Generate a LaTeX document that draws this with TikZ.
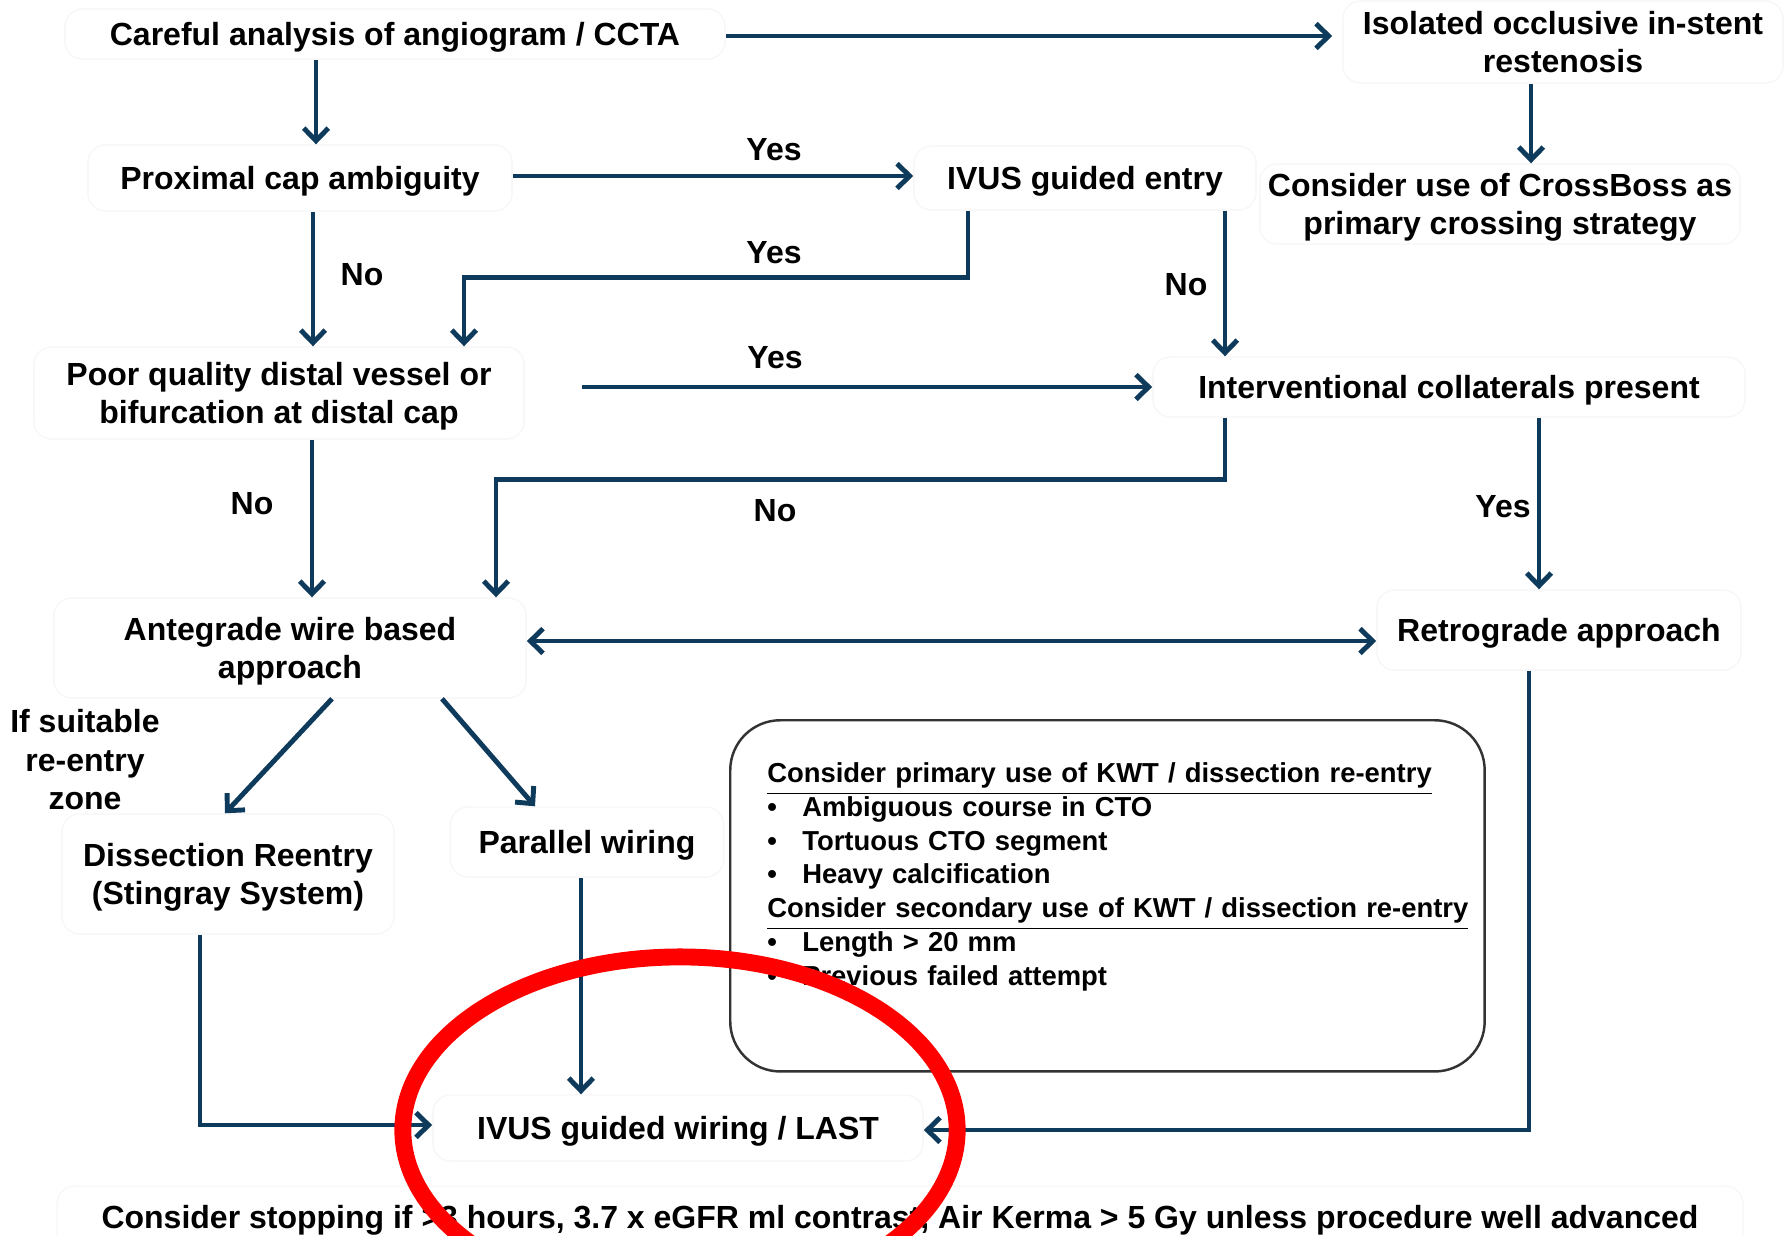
\documentclass[tikz,border=0pt]{standalone}
\usepackage{fontspec}
\setmainfont{Liberation Sans}
\usetikzlibrary{positioning,calc,arrows.meta}
\definecolor{navy}{HTML}{0E3A5C}
\newcommand{\kwtitem}{\makebox[0.35cm][l]{\textbullet}}

\begin{document}
\begin{tikzpicture}[x=0.01cm, y=-0.01cm, font=\fontsize{9.1}{10.95}\selectfont\bfseries]
\tikzset{
  card/.style={draw=black!3, rounded corners=5pt, fill=white, align=center, inner sep=0pt, text depth=0pt},
  lbl/.style={inner sep=0pt, align=center},
  arr/.style={draw=navy, line width=1.4pt, -{Straight Barb[length=3.6pt,width=7pt]}},
  both/.style={arr, {Straight Barb[length=3.6pt,width=7pt]}-{Straight Barb[length=3.6pt,width=7pt]}},
  kwtbox/.style={draw=black!80, rounded corners=0.5cm, line width=0.7pt, fill=white, align=left, anchor=north west,
    text width=6.8cm, inner xsep=0.37cm, minimum width=7.54cm, minimum height=3.51cm,
    font=\fontsize{7.8}{9.6}\selectfont\bfseries},
  ring/.style={draw=red, line width=4.8pt}
}
\useasboundingbox (0,0) rectangle (1785,1235);

\node[card, minimum width=6.6cm, minimum height=0.5cm] (careful) at (395,34) {Careful analysis of angiogram / CCTA};
\node[card, minimum width=4.4cm, minimum height=0.82cm] (isolated) at (1563,42) {Isolated occlusive in-stent\\restenosis};
\node[card, minimum width=4.24cm, minimum height=0.66cm] (proximal) at (300,178) {Proximal cap ambiguity};
\node[card, minimum width=3.42cm, minimum height=0.64cm] (ivusentry) at (1085,178) {IVUS guided entry};
\node[card, minimum width=4.8cm, minimum height=0.8cm] (crossboss) at (1500,204) {Consider use of CrossBoss as\\primary crossing strategy};
\node[card, minimum width=4.9cm, minimum height=0.92cm] (poor) at (279,393) {Poor quality distal vessel or\\bifurcation at distal cap};
\node[card, minimum width=5.92cm, minimum height=0.6cm] (collat) at (1449,387) {Interventional collaterals present};
\node[card, minimum width=4.72cm, minimum height=1.0cm] (antegrade) at (290,648) {Antegrade wire based\\approach};
\node[card, minimum width=3.64cm, minimum height=0.8cm] (retro) at (1559,630) {Retrograde approach};
\node[card, minimum width=3.32cm, minimum height=1.2cm] (dissection) at (228,874) {Dissection Reentry\\(Stingray System)};
\node[lbl] (suitable) at (85,760) {If suitable\\re-entry\\zone};
\node[card, minimum width=2.73cm, minimum height=0.7cm] (parallel) at (587,842) {Parallel wiring};
\node[card, minimum width=4.9cm, minimum height=0.66cm] (ivuswire) at (678,1128) {IVUS guided wiring / LAST};
\node[card, minimum width=16.85cm, minimum height=0.62cm] (stop) at (900,1217) {Consider stopping if >3 hours, 3.7 x eGFR ml contrast, Air Kerma > 5 Gy unless procedure well advanced};

\node[kwtbox] (kwt) at (729,719) {\underline{Consider primary use of KWT / dissection re-entry}\\
\kwtitem Ambiguous course in CTO\\
\kwtitem Tortuous CTO segment\\
\kwtitem Heavy calcification\\
\underline{Consider secondary use of KWT / dissection re-entry}\\
\kwtitem Length > 20 mm\\
\kwtitem Previous failed attempt\\[0.1cm]\mbox{}};

\foreach \n/\x/\y/\t in {yesA/774/150/Yes, yesB/774/253/Yes, noA/362/275/No, noB/1186/285/No,
  yesC/775/358/Yes, noC/252/504/No, noD/775/511/No, yesD/1503/507/Yes}
  \node[lbl] (\n) at (\x,\y) {\t};

\draw[arr] (careful.east |- 0,36) -- ([xshift=-0.1cm]isolated.west |- 0,36);
\draw[arr] (careful.south -| 316,0) -- (proximal.north -| 316,0);
\draw[arr] (proximal.east |- 0,176) -- (ivusentry.west |- 0,176);
\draw[arr] (isolated.south -| 1531,0) -- (crossboss.north -| 1531,0);
\draw[arr] (proximal.south -| 313,0) -- (poor.north -| 313,0);
\draw[arr] (ivusentry.south -| 968,0) -- ++(0,67) -| (poor.north -| 464,0);
\draw[arr] (ivusentry.south -| 1225,0) -- (collat.north -| 1225,0);
\draw[arr] ([xshift=0.57cm]poor.east |- 0,387) -- (collat.west);
\draw[arr] (poor.south -| 312,0) -- (antegrade.north -| 312,0);
\draw[arr] (collat.south -| 1225,0) -- ++(0,62) -| (antegrade.north -| 496,0);
\draw[arr] (collat.south -| 1539,0) -- (retro.north -| 1539,0);
\draw[both] (antegrade.east |- 0,641) -- (retro.west |- 0,641);
\draw[arr] (antegrade.south -| 332,0) -- (dissection.north -| 225,0);
\draw[arr] (antegrade.south -| 442,0) -- (parallel.north -| 535,0);
\draw[arr] (parallel.south -| 581,0) -- (ivuswire.north -| 581,0);
\draw[arr] (dissection.south -| 200,0) |- (ivuswire.west |- 0,1125);
\draw[arr] (retro.south -| 1529,0) |- (ivuswire.east |- 0,1130);

\draw[ring] (680,1130) ellipse [x radius=2.77cm, y radius=1.73cm];
\end{tikzpicture}
\end{document}
